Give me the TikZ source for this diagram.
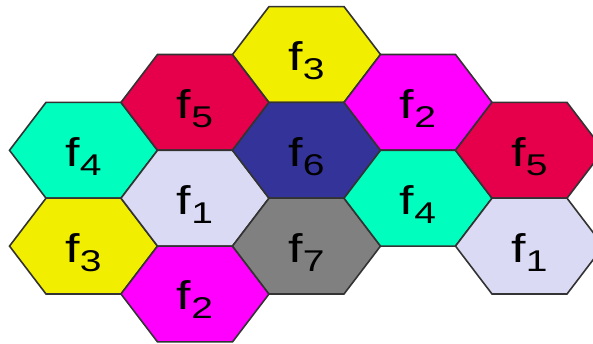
\documentclass[tikz,border=0pt]{standalone}
\usepackage{fontspec}
\setmainfont{Liberation Sans}
\definecolor{cteal}{RGB}{0,255,191}
\definecolor{ccrim}{RGB}{230,0,76}
\definecolor{cyel}{RGB}{242,238,0}
\definecolor{cmag}{RGB}{255,0,255}
\definecolor{clav}{RGB}{218,218,244}
\definecolor{cnavy}{RGB}{51,51,153}
\definecolor{cgray}{RGB}{128,128,128}
\newcommand\drawhexcell[5]{%
  \path[hexcell, fill=#4] (#2-74,344-#3) -- (#2-37.5,344-#3+47.9) -- (#2+37.5,344-#3+47.9) -- (#2+74,344-#3) -- (#2+37.5,344-#3-47.9) -- (#2-37.5,344-#3-47.9) -- cycle;
  \node[hexlabel] (#1) at (#2,344-#3-16) {f\raisebox{-9pt}{\fontsize{30}{30}\selectfont #5}};
}
\begin{document}
\begin{tikzpicture}[x=1pt,y=1pt,
  hexcell/.style={draw=black!80, line width=1.6pt, line join=miter},
  hexlabel/.style={anchor=base, xscale=1.3, inner sep=0pt, text=black, font=\fontsize{40}{40}\selectfont}]
\useasboundingbox (0,0) rectangle (593,344);
\clip (0,0) rectangle (593,344);
% column 1
\drawhexcell{fa}{83.5}{150.3}{cteal}{4}
\drawhexcell{fb}{83.5}{246.1}{cyel}{3}
% column 2
\drawhexcell{fc}{195}{102.4}{ccrim}{5}
\drawhexcell{fd}{195}{198.2}{clav}{1}
\drawhexcell{fe}{195}{294}{cmag}{2}
% column 3
\drawhexcell{ff}{306.5}{54.5}{cyel}{3}
\drawhexcell{fg}{306.5}{150.3}{cnavy}{6}
\drawhexcell{fh}{306.5}{246.1}{cgray}{7}
% column 4
\drawhexcell{fi}{418}{102.4}{cmag}{2}
\drawhexcell{fj}{418}{198.2}{cteal}{4}
% column 5
\drawhexcell{fk}{529.5}{150.3}{ccrim}{5}
\drawhexcell{fl}{529.5}{246.1}{clav}{1}
\end{tikzpicture}
\end{document}
